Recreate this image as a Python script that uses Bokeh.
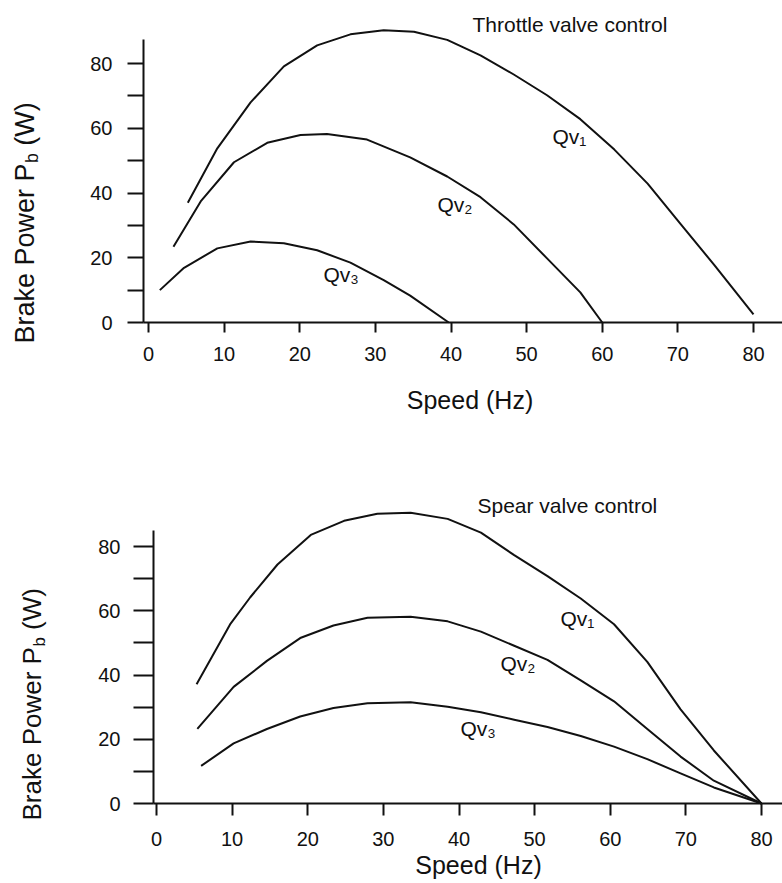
import math
from bokeh.plotting import figure
from bokeh.layouts import column
from bokeh.models import FixedTicker, Range1d, Label
from bokeh.embed import file_html
from bokeh.resources import INLINE

# ---------------- data ----------------
# Throttle valve control
thr_qv1_speed = [5.2, 9.1, 13.5, 17.9, 22.3, 26.7, 31.1, 35.1, 39.5, 43.9, 48.3, 52.7, 57.1, 61.6, 66.0, 70.4, 74.8, 80.0]
thr_qv1_power = [37.0, 53.8, 68.0, 79.1, 85.6, 89.0, 90.3, 89.8, 87.3, 82.5, 76.6, 70.2, 62.8, 53.4, 42.9, 30.3, 17.8, 2.5]
thr_qv2_speed = [3.3, 6.9, 11.3, 15.7, 20.1, 23.6, 28.9, 34.6, 39.5, 43.9, 48.3, 52.7, 57.1, 60.0]
thr_qv2_power = [23.4, 37.4, 49.5, 55.5, 57.9, 58.2, 56.5, 51.0, 45.1, 38.7, 30.3, 19.8, 9.3, 0.0]
thr_qv3_speed = [1.5, 4.7, 9.1, 13.5, 17.9, 22.3, 26.7, 31.1, 34.6, 39.7]
thr_qv3_power = [10.0, 16.9, 22.9, 25.0, 24.5, 22.3, 18.5, 13.1, 8.3, 0.0]

# Spear valve control
spr_qv1_speed = [5.3, 9.8, 12.4, 16.0, 20.4, 24.8, 29.2, 33.6, 38.5, 42.9, 47.3, 51.7, 56.1, 60.5, 64.9, 69.3, 73.7, 80.0]
spr_qv1_power = [37.1, 56.0, 64.2, 74.4, 83.6, 88.0, 90.2, 90.5, 88.6, 84.3, 77.3, 70.8, 63.8, 55.8, 44.1, 29.3, 16.5, 0.0]
spr_qv2_speed = [5.4, 10.2, 14.6, 19.0, 23.4, 27.9, 33.6, 38.5, 42.9, 47.3, 51.7, 56.1, 60.5, 64.9, 69.3, 73.7, 80.0]
spr_qv2_power = [23.2, 36.3, 44.4, 51.5, 55.4, 57.8, 58.1, 56.7, 53.5, 49.1, 44.7, 38.3, 31.8, 23.2, 14.6, 7.1, 0.0]
spr_qv3_speed = [5.9, 10.2, 14.6, 19.0, 23.4, 27.9, 33.6, 38.5, 42.9, 47.3, 51.7, 56.1, 60.5, 64.9, 69.3, 73.7, 80.0]
spr_qv3_power = [11.7, 18.7, 23.2, 27.1, 29.7, 31.2, 31.5, 30.1, 28.4, 26.1, 23.8, 21.0, 17.7, 13.8, 9.4, 5.0, 0.0]

x_ticks = [0, 10, 20, 30, 40, 50, 60, 70, 80]
y_major_ticks = [0, 20, 40, 60, 80]
y_minor_ticks = [10, 30, 50, 70]
curve_names = ["Qv\u2081", "Qv\u2082", "Qv\u2083"]
titles = ["Throttle valve control", "Spear valve control"]
x_title = "Speed (Hz)"
y_title_parts = ["Brake Power P", "b", "(W)"]

FONT = "Liberation Sans"
INK = "#111111"
PAGE_W = 782
OFF = 0  # page offset of the canvas


def build(spec):
    fig_top, fig_h = spec["fig_top"], spec["fig_h"]
    x0px, xs = spec["x0px"], spec["xscale"]
    y0px, ys = spec["y0px"], spec["yscale"]

    def dx(px):
        return (px - x0px) / xs

    def dy(py):
        return (y0px - py) / ys

    # the frame fills the whole canvas; the axes sit at fixed data positions
    p = figure(width=PAGE_W, height=fig_h,
               x_range=Range1d(dx(OFF), dx(OFF + PAGE_W)),
               y_range=Range1d(dy(fig_top + fig_h), dy(fig_top)),
               output_backend="svg", toolbar_location=None,
               min_border_left=0, min_border_right=0,
               min_border_top=0, min_border_bottom=0)
    p.grid.visible = False
    p.outline_line_color = None
    p.background_fill_color = "white"
    p.border_fill_color = "white"

    xa = p.xaxis[0]
    xa.fixed_location = 0
    xa.bounds = (dx(spec["axis_px"]), dx(OFF + PAGE_W))
    xa.ticker = FixedTicker(ticks=x_ticks, minor_ticks=[])
    xa.axis_line_width = 2
    xa.axis_line_color = INK
    xa.major_tick_line_width = 2
    xa.major_tick_line_color = INK
    xa.major_tick_in = 0
    xa.major_tick_out = spec["xtick"]
    xa.minor_tick_in = 0
    xa.minor_tick_out = 0
    xa.major_label_text_font = FONT
    xa.major_label_text_font_size = "20px"
    xa.major_label_text_color = INK
    xa.major_label_standoff = spec["xstand"]

    ya = p.yaxis[0]
    ya.fixed_location = dx(spec["axis_px"])
    ya.ticker = FixedTicker(ticks=y_major_ticks, minor_ticks=y_minor_ticks)
    ya.bounds = (0, spec["ytop"])
    ya.axis_line_width = 2
    ya.axis_line_color = INK
    ya.major_tick_line_width = 2
    ya.major_tick_line_color = INK
    ya.minor_tick_line_width = 2
    ya.minor_tick_line_color = INK
    ya.major_tick_in = 0
    ya.minor_tick_in = 0
    ya.major_tick_out = spec["ytick"]
    ya.minor_tick_out = spec["ytick"]
    ya.major_label_text_font = FONT
    ya.major_label_text_font_size = "20px"
    ya.major_label_text_color = INK
    ya.major_label_standoff = spec["ystand"]

    for xs_, ys_ in spec["curves"]:
        p.line(xs_, ys_, line_width=2, line_color=INK)

    def lab(text, px, py, size, align="left", angle=0.0):
        p.add_layout(Label(x=dx(px), y=dy(py), text=text, text_font=FONT,
                           text_font_size=size, text_color=INK,
                           text_align=align, text_baseline="middle", angle=angle))

    tx, ty = spec["title_pos"]
    lab(spec["title"], tx, ty, "21px")
    for name, (px, py) in zip(curve_names, spec["name_pos"]):
        lab(name, px, py, "21px")
    sx, sy = spec["xtitle_pos"]
    lab(x_title, sx, sy, "25px", align="center")
    # rotated y title: (centre line x, bottom start y, font size)
    bx, by, fs = spec["ytitle"]
    sub_fs = fs * 0.65
    w_main = 6.669 * fs
    w_sub = 0.556 * sub_fs
    w_space = 0.278 * fs
    lab(y_title_parts[0], bx, by, f"{fs}px", angle=math.pi / 2)
    lab(y_title_parts[1], bx + 7.5, by - w_main - 0.5, f"{sub_fs:.1f}px", angle=math.pi / 2)
    lab(y_title_parts[2], bx, by - w_main - w_sub - w_space - 0.5, f"{fs}px", angle=math.pi / 2)
    return p


top_spec = dict(
    fig_top=0, fig_h=432, axis_px=143,
    x0px=148, xscale=7.5625, y0px=322, yscale=3.2375,
    xtick=10, xstand=14, ytick=16, ystand=15, ytop=87.4,
    curves=[(thr_qv1_speed, thr_qv1_power), (thr_qv2_speed, thr_qv2_power), (thr_qv3_speed, thr_qv3_power)],
    title=titles[0], title_pos=(472, 24),
    name_pos=[(552, 136), (437, 204), (323, 274)],
    xtitle_pos=(469.5, 399),
    ytitle=(24, 343, 27),
)

bot_spec = dict(
    fig_top=432, fig_h=451, axis_px=153,
    x0px=156, xscale=7.5625, y0px=803, yscale=3.2125,
    xtick=12, xstand=16, ytick=20, ystand=13, ytop=85.0,
    curves=[(spr_qv1_speed, spr_qv1_power), (spr_qv2_speed, spr_qv2_power), (spr_qv3_speed, spr_qv3_power)],
    title=titles[1], title_pos=(477, 505),
    name_pos=[(560, 618), (500, 663), (460, 728)],
    xtitle_pos=(478, 864.5),
    ytitle=(31, 820, 26),
)

p1 = build(top_spec)
p2 = build(bot_spec)
layout = column(p1, p2, spacing=0)

open("out.html", "w").write(file_html(layout, INLINE))
